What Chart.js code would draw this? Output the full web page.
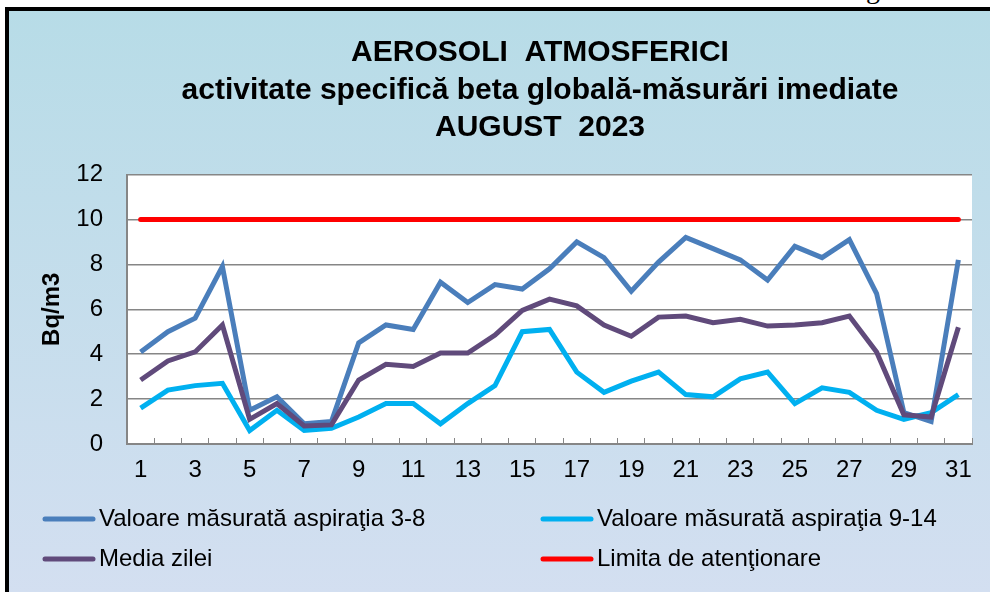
<!DOCTYPE html>
<html>
<head>
<meta charset="utf-8">
<script src="https://cdn.jsdelivr.net/npm/chart.js@4.4.0/dist/chart.umd.min.js"></script>
<style>
html, body { margin: 0; padding: 0; background: #fff; }
body { width: 990px; height: 592px; position: relative; overflow: hidden; }
#frame { position: absolute; left: 5px; top: 7px; width: 1000px; height: 600px; border-left: 4px solid #000; border-top: 4px solid #000; background: linear-gradient(#b7dce7, #d4dff1); }
#frag { position: absolute; left: 866px; top: -25px; font: 28px/28px "Liberation Serif"; color: #000; }
#wrap { position: absolute; left: 0; top: 0; width: 990px; height: 592px; }
</style>
</head>
<body>
<div id="frame"></div>
<div id="frag">g</div>
<div id="wrap"><canvas id="aerosoli" width="990" height="592"></canvas></div>
<script>
// Zilele lunii
const days = ["1", "2", "3", "4", "5", "6", "7", "8", "9", "10", "11", "12", "13", "14", "15", "16",
    "17", "18", "19", "20", "21", "22", "23", "24", "25", "26", "27", "28", "29", "30", "31"];

// Valori Bq/m3
const asp38 = [4.1, 5.0, 5.6, 7.9, 1.5, 2.1, 0.9, 1.0, 4.5, 5.3, 5.1, 7.2, 6.3, 7.1, 6.9, 7.8,
    9.0, 8.3, 6.8, 8.1, 9.2, 8.7, 8.2, 7.3, 8.8, 8.3, 9.1, 6.7, 1.4, 1.0, 8.2];
const asp914 = [1.6, 2.4, 2.6, 2.7, 0.6, 1.5, 0.6, 0.7, 1.2, 1.8, 1.8, 0.9, 1.8, 2.6, 5.0, 5.1,
    3.2, 2.3, 2.8, 3.2, 2.2, 2.1, 2.9, 3.2, 1.8, 2.5, 2.3, 1.5, 1.1, 1.4, 2.2];
const media = [2.85, 3.7, 4.1, 5.3, 1.1, 1.8, 0.8, 0.85, 2.85, 3.55, 3.45, 4.05, 4.05, 4.85, 5.95, 6.45,
    6.15, 5.3, 4.8, 5.65, 5.7, 5.4, 5.55, 5.25, 5.3, 5.4, 5.7, 4.1, 1.3, 1.2, 5.2];
const limita = [10, 10, 10, 10, 10, 10, 10, 10, 10, 10, 10, 10, 10, 10, 10, 10,
    10, 10, 10, 10, 10, 10, 10, 10, 10, 10, 10, 10, 10, 10, 10];

const yMin = 0, yMax = 12, yStep = 2;

const titleLines = ["AEROSOLI  ATMOSFERICI", "activitate specifică beta globală-măsurări imediate", "AUGUST  2023"];
const seriesNames = ["Valoare măsurată aspiraţia 3-8", "Valoare măsurată aspiraţia 9-14", "Media zilei", "Limita de atenţionare"];

const FONT = "'Liberation Sans', Arial, sans-serif";
const GRID = "#868686";

// fond blanc pour la zone du graphe
const plotBg = {
    id: "plotBg",
    beforeDraw(chart) {
        const a = chart.chartArea, ctx = chart.ctx;
        ctx.save();
        ctx.fillStyle = "#fff";
        ctx.fillRect(a.left, a.top, a.right - a.left, a.bottom - a.top);
        ctx.restore();
    }
};

// le titre est centré sur tout le cadre (plus large que la fenetre)
const titleShift = {
    id: "titleShift",
    afterLayout(chart) {
        if (chart.titleBlock) {
            chart.titleBlock.left = 0;
            chart.titleBlock.right = 1080;
        }
    }
};

// legende sur deux colonnes
const boxLegend = {
    id: "boxLegend",
    afterDraw(chart) {
        const ctx = chart.ctx;
        const cols = [42, 540];
        const rows = [519, 559];
        ctx.save();
        ctx.font = "24px " + FONT;
        ctx.textBaseline = "middle";
        chart.data.datasets.forEach((ds, i) => {
            const x = cols[i % 2], y = rows[Math.floor(i / 2)];
            ctx.strokeStyle = ds.borderColor;
            ctx.lineWidth = 5;
            ctx.lineCap = "round";
            ctx.beginPath();
            ctx.moveTo(x + 3, y);
            ctx.lineTo(x + 51, y);
            ctx.stroke();
            ctx.fillStyle = "#000";
            ctx.fillText(ds.label, x + 57, y);
        });
        ctx.restore();
    }
};

const graphAerosoli = new Chart(document.getElementById("aerosoli"), {
    type: "line",
    data: {
        labels: days,
        datasets: [{
            label: seriesNames[0],
            data: asp38,
            borderColor: "#4a7ebb",
            borderWidth: 5,
            pointRadius: 0,
            order: 4
        }, {
            label: seriesNames[1],
            data: asp914,
            borderColor: "#00b0f0",
            borderWidth: 5,
            pointRadius: 0,
            order: 3
        }, {
            label: seriesNames[2],
            data: media,
            borderColor: "#604a7b",
            borderWidth: 5,
            pointRadius: 0,
            order: 2
        }, {
            label: seriesNames[3],
            data: limita,
            borderColor: "#ff0000",
            borderWidth: 5,
            borderCapStyle: "round",
            pointRadius: 0,
            order: 1
        }]
    },
    options: {
        responsive: false,
        animation: false,
        devicePixelRatio: 1,
        layout: { padding: { left: 0, right: 17, top: 0, bottom: 0 } },
        plugins: {
            legend: { display: false },
            tooltip: { enabled: false },
            title: {
                display: true,
                text: titleLines,
                color: "#000",
                font: { family: FONT, size: 30, weight: "bold", lineHeight: 1.25 },
                padding: { top: 34, bottom: 28 }
            }
        },
        scales: {
            x: {
                offset: true,
                grid: { offset: true, drawOnChartArea: false, drawTicks: true, tickLength: -6, color: GRID, lineWidth: 1 },
                border: { color: GRID, width: 2 },
                ticks: {
                    autoSkip: false,
                    maxRotation: 0,
                    color: "#000",
                    font: { family: FONT, size: 24 },
                    padding: 18,
                    callback: function (v, i) { return i % 2 === 0 ? this.getLabelForValue(v) : ""; }
                },
                afterFit(s) { s.height = 148; }
            },
            y: {
                min: yMin,
                max: yMax,
                grid: { color: GRID, lineWidth: 1.5, drawTicks: false },
                border: { color: GRID, width: 2 },
                ticks: {
                    stepSize: yStep,
                    color: "#000",
                    font: { family: FONT, size: 24 },
                    padding: 24
                },
                title: {
                    display: true,
                    text: "Bq/m3",
                    color: "#000",
                    font: { family: FONT, size: 24, weight: "bold" },
                    padding: { top: 38, bottom: 0 }
                },
                afterFit(s) { s.width = 127; }
            }
        }
    },
    plugins: [plotBg, titleShift, boxLegend]
});
</script>
</body>
</html>
